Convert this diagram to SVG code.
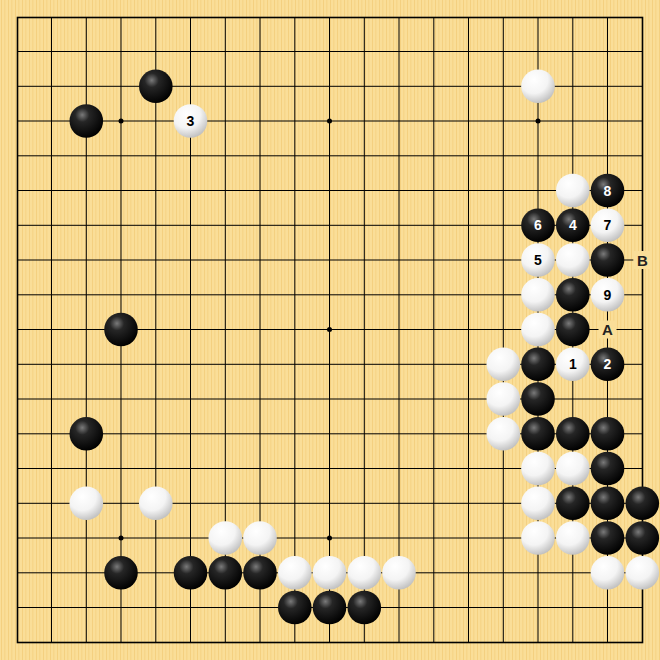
<svg xmlns="http://www.w3.org/2000/svg" width="660" height="660" viewBox="0 0 660 660">
<defs>
<pattern id="wood" width="7" height="660" patternUnits="userSpaceOnUse">
<rect width="7" height="660" fill="#FADE98"/>
<rect x="1" width="1" height="660" fill="#F4D080"/>
<rect x="4" width="1.5" height="660" fill="#F7D68A"/>
</pattern>
<radialGradient id="gb" cx="0.38" cy="0.32" r="0.7">
<stop offset="0" stop-color="#7a7a7a"/>
<stop offset="0.3" stop-color="#262626"/>
<stop offset="1" stop-color="#000"/>
</radialGradient>
<radialGradient id="gw" cx="0.38" cy="0.3" r="0.75">
<stop offset="0" stop-color="#ffffff"/>
<stop offset="0.55" stop-color="#f4f4f4"/>
<stop offset="1" stop-color="#bcbcbc"/>
</radialGradient>
<style>
.b{fill:url(#gb)}
.w{fill:url(#gw)}
.lb{font-family:"Liberation Sans",Arial,sans-serif;font-weight:bold;font-size:14px;fill:#fff;text-anchor:middle}
.lw{font-family:"Liberation Sans",Arial,sans-serif;font-weight:bold;font-size:14px;fill:#000;text-anchor:middle}
.lm{font-family:"Liberation Sans",Arial,sans-serif;font-weight:bold;font-size:15px;fill:#222;text-anchor:middle}
</style>
</defs>
<rect width="660" height="660" fill="url(#wood)"/>
<g id="grid" stroke="#000" stroke-width="1">
<path d="M51.5 17.5V642.5M86.3 17.5V642.5M121 17.5V642.5M155.8 17.5V642.5M190.5 17.5V642.5M225.3 17.5V642.5M260 17.5V642.5M294.8 17.5V642.5M329.5 17.5V642.5M364.3 17.5V642.5M399 17.5V642.5M433.8 17.5V642.5M468.5 17.5V642.5M503.3 17.5V642.5M538 17.5V642.5M572.8 17.5V642.5M607.5 17.5V642.5"/>
<path d="M17.5 51.5H642.5M17.5 86.3H642.5M17.5 121H642.5M17.5 155.8H642.5M17.5 190.5H642.5M17.5 225.3H642.5M17.5 260H642.5M17.5 294.8H642.5M17.5 329.5H642.5M17.5 364.3H642.5M17.5 399H642.5M17.5 433.8H642.5M17.5 468.5H642.5M17.5 503.3H642.5M17.5 538H642.5M17.5 572.8H642.5M17.5 607.5H642.5"/>
<rect x="17.5" y="17.5" width="625" height="625" fill="none" stroke-width="1.6"/>
</g>
<g id="stars" fill="#000">
<circle cx="121" cy="121" r="2.5"/><circle cx="329.5" cy="121" r="2.5"/><circle cx="538" cy="121" r="2.5"/>
<circle cx="121" cy="329.5" r="2.5"/><circle cx="329.5" cy="329.5" r="2.5"/><circle cx="538" cy="329.5" r="2.5"/>
<circle cx="121" cy="538" r="2.5"/><circle cx="329.5" cy="538" r="2.5"/><circle cx="538" cy="538" r="2.5"/>
</g>
<g id="black-stones">
<circle class="b" cx="155.8" cy="86.3" r="16.8"/>
<circle class="b" cx="86.3" cy="121" r="16.8"/>
<circle class="b" cx="607.5" cy="190.5" r="16.8"/>
<circle class="b" cx="538" cy="225.3" r="16.8"/>
<circle class="b" cx="572.8" cy="225.3" r="16.8"/>
<circle class="b" cx="607.5" cy="260" r="16.8"/>
<circle class="b" cx="572.8" cy="294.8" r="16.8"/>
<circle class="b" cx="121" cy="329.5" r="16.8"/>
<circle class="b" cx="572.8" cy="329.5" r="16.8"/>
<circle class="b" cx="538" cy="364.3" r="16.8"/>
<circle class="b" cx="607.5" cy="364.3" r="16.8"/>
<circle class="b" cx="538" cy="399" r="16.8"/>
<circle class="b" cx="86.3" cy="433.8" r="16.8"/>
<circle class="b" cx="538" cy="433.8" r="16.8"/>
<circle class="b" cx="572.8" cy="433.8" r="16.8"/>
<circle class="b" cx="607.5" cy="433.8" r="16.8"/>
<circle class="b" cx="607.5" cy="468.5" r="16.8"/>
<circle class="b" cx="572.8" cy="503.3" r="16.8"/>
<circle class="b" cx="607.5" cy="503.3" r="16.8"/>
<circle class="b" cx="642.3" cy="503.3" r="16.8"/>
<circle class="b" cx="607.5" cy="538" r="16.8"/>
<circle class="b" cx="642.3" cy="538" r="16.8"/>
<circle class="b" cx="121" cy="572.8" r="16.8"/>
<circle class="b" cx="190.5" cy="572.8" r="16.8"/>
<circle class="b" cx="225.3" cy="572.8" r="16.8"/>
<circle class="b" cx="260" cy="572.8" r="16.8"/>
<circle class="b" cx="294.8" cy="607.5" r="16.8"/>
<circle class="b" cx="329.5" cy="607.5" r="16.8"/>
<circle class="b" cx="364.3" cy="607.5" r="16.8"/>
</g>
<g id="white-stones">
<circle class="w" cx="538" cy="86.3" r="16.8"/>
<circle class="w" cx="190.5" cy="121" r="16.8"/>
<circle class="w" cx="572.8" cy="190.5" r="16.8"/>
<circle class="w" cx="607.5" cy="225.3" r="16.8"/>
<circle class="w" cx="538" cy="260" r="16.8"/>
<circle class="w" cx="572.8" cy="260" r="16.8"/>
<circle class="w" cx="538" cy="294.8" r="16.8"/>
<circle class="w" cx="607.5" cy="294.8" r="16.8"/>
<circle class="w" cx="538" cy="329.5" r="16.8"/>
<circle class="w" cx="503.3" cy="364.3" r="16.8"/>
<circle class="w" cx="572.8" cy="364.3" r="16.8"/>
<circle class="w" cx="503.3" cy="399" r="16.8"/>
<circle class="w" cx="503.3" cy="433.8" r="16.8"/>
<circle class="w" cx="538" cy="468.5" r="16.8"/>
<circle class="w" cx="572.8" cy="468.5" r="16.8"/>
<circle class="w" cx="86.3" cy="503.3" r="16.8"/>
<circle class="w" cx="155.8" cy="503.3" r="16.8"/>
<circle class="w" cx="538" cy="503.3" r="16.8"/>
<circle class="w" cx="225.3" cy="538" r="16.8"/>
<circle class="w" cx="260" cy="538" r="16.8"/>
<circle class="w" cx="538" cy="538" r="16.8"/>
<circle class="w" cx="572.8" cy="538" r="16.8"/>
<circle class="w" cx="294.8" cy="572.8" r="16.8"/>
<circle class="w" cx="329.5" cy="572.8" r="16.8"/>
<circle class="w" cx="364.3" cy="572.8" r="16.8"/>
<circle class="w" cx="399" cy="572.8" r="16.8"/>
<circle class="w" cx="607.5" cy="572.8" r="16.8"/>
<circle class="w" cx="642.3" cy="572.8" r="16.8"/>
</g>
<g id="move-labels">
<text class="lw" x="572.8" y="369.3">1</text>
<text class="lb" x="607.5" y="369.3">2</text>
<text class="lw" x="190.5" y="126">3</text>
<text class="lb" x="572.8" y="230.3">4</text>
<text class="lw" x="538" y="265">5</text>
<text class="lb" x="538" y="230.3">6</text>
<text class="lw" x="607.5" y="230.3">7</text>
<text class="lb" x="607.5" y="195.5">8</text>
<text class="lw" x="607.5" y="299.8">9</text>
</g>
<g id="point-labels">
<rect x="598.5" y="320.5" width="18" height="18" fill="#FADE98"/>
<text class="lm" x="607.5" y="335">A</text>
<rect x="633.3" y="251" width="18" height="18" fill="#FADE98"/>
<text class="lm" x="642.3" y="265.5">B</text>
</g>
</svg>
